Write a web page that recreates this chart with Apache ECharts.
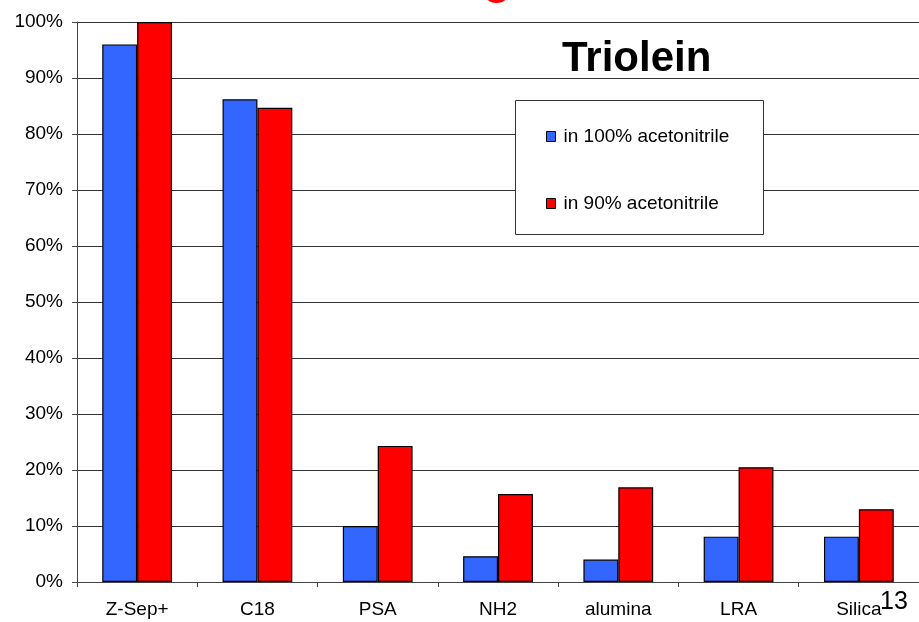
<!DOCTYPE html>
<html>
<head>
<meta charset="utf-8">
<script src="https://cdn.jsdelivr.net/npm/echarts@6/dist/echarts.min.js"></script>
<style>
html,body{margin:0;padding:0;background:#fff;}
#chart{width:919px;height:622px;}
</style>
</head>
<body>
<div id="chart"></div>
<script>
const categories = ['Z-Sep+', 'C18', 'PSA', 'NH2', 'alumina', 'LRA', 'Silica'];
const acn100 = [96, 86.2, 10.0, 4.6, 4.0, 8.1, 8.1];
const acn90 = [100, 84.7, 24.3, 15.7, 16.9, 20.5, 13.0];
const seriesNames = ['in 100% acetonitrile', 'in 90% acetonitrile'];
const yTicks = [0, 10, 20, 30, 40, 50, 60, 70, 80, 90, 100];

const FONT = 'Liberation Sans, Arial, sans-serif';
const chart = echarts.init(document.getElementById('chart'), null, {renderer: 'canvas'});
chart.setOption({
  animation: false,
  backgroundColor: '#fff',
  grid: {left: 77, top: 22, bottom: 40, width: 847, containLabel: false},
  xAxis: {
    type: 'category',
    data: categories,
    axisLine: {lineStyle: {color: '#444', width: 1}},
    axisTick: {show: true, length: 5, lineStyle: {color: '#444'}},
    axisLabel: {color: '#000', fontSize: 19, fontFamily: FONT, margin: 18}
  },
  yAxis: {
    type: 'value',
    min: 0, max: 100, interval: 10,
    axisLine: {show: true, lineStyle: {color: '#444', width: 1}},
    axisTick: {show: true, length: 5, lineStyle: {color: '#444'}},
    axisLabel: {color: '#000', fontSize: 19, fontFamily: FONT, margin: 14,
      formatter: v => yTicks.includes(v) ? v + '%' : ''},
    splitLine: {show: true, lineStyle: {color: '#333', width: 1}}
  },
  legend: {
    orient: 'vertical',
    left: 541, top: 122,
    itemWidth: 9, itemHeight: 10,
    itemGap: 48,
    icon: 'rect',
    selectedMode: false,
    textStyle: {color: '#000', fontSize: 19, fontFamily: FONT, padding: [0, 0, 0, 3]},
    z: 20,
    data: seriesNames.map(n => ({name: n, itemStyle: {borderColor: '#000', borderWidth: 1}}))
  },
  graphic: [
    {type: 'rect', left: 515, top: 100, shape: {width: 248, height: 134},
      style: {fill: '#fff', stroke: '#333', lineWidth: 1}, z: 10},
    {type: 'text', left: 562, top: 38, style: {text: 'Triolein', fill: '#000',
      font: 'bold 42px ' + FONT}, z: 10},
    {type: 'text', left: 880, top: 590, style: {text: '13', fill: '#000',
      font: '25px ' + FONT}, z: 10},
    {type: 'text', left: 483, top: -43, style: {text: 'g', fill: '#ff0000',
      font: 'bold 46px ' + FONT}, z: 10}
  ],
  series: [
    {name: seriesNames[0], type: 'bar', data: acn100, barGap: '0%', barCategoryGap: '42%',
      itemStyle: {color: '#3366ff', borderColor: '#000', borderWidth: 1.2}},
    {name: seriesNames[1], type: 'bar', data: acn90, barGap: '0%', barCategoryGap: '42%',
      itemStyle: {color: '#ff0000', borderColor: '#000', borderWidth: 1.2}}
  ]
});
</script>
</body>
</html>
